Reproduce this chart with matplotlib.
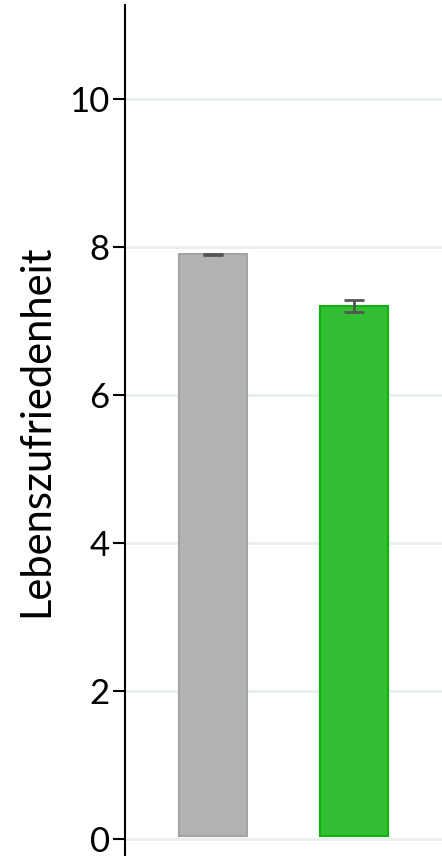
import numpy as np
import matplotlib.pyplot as plt

# values
groups = ['A', 'B']
means = [7.90, 7.20]
errs = [0.01, 0.08]
colors = ['#b3b3b3', '#33bf33']
edges = ['#a3a3a3', '#11b011']
base = 0.04

fig = plt.figure(figsize=(4.42, 8.56), dpi=100)
ax = fig.add_axes([125/442, 0, 1 - 125/442, 851/856])

x = np.arange(len(groups))
ax.bar(x, np.array(means) - base, bottom=base, width=0.48, color=colors,
       edgecolor=edges, linewidth=1.5, zorder=2)
ax.errorbar(x, means, yerr=errs, fmt='none', ecolor='#555555',
            elinewidth=2, capsize=7, capthick=2, zorder=3)

ax.set_xlim(-0.624, 1.624)
ax.set_ylim(-0.23, 11.27)
ax.set_yticks([0, 2, 4, 6, 8, 10])
ax.yaxis.grid(True, color='#e8eff0', linewidth=2, zorder=0)
ax.set_axisbelow(True)
ax.set_xticks([])
for s in ['top', 'right', 'bottom']:
    ax.spines[s].set_visible(False)
ax.spines['left'].set_linewidth(1.5)
ax.tick_params(axis='y', length=9, width=1.5, labelsize=25, pad=2)
for lab in ax.get_yticklabels():
    lab.set_family(['Lato', 'DejaVu Sans'])
ax.set_ylabel('Lebenszufriedenheit', fontsize=30, family=['Lato', 'DejaVu Sans'], labelpad=10)

fig.savefig('out.png', dpi=100)
